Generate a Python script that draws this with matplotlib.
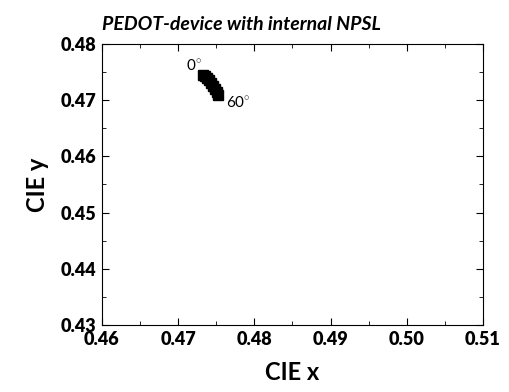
import matplotlib.pyplot as plt
from matplotlib.ticker import MultipleLocator

plt.rcParams['font.family'] = ['Lato', 'DejaVu Sans']
plt.rcParams['mathtext.fontset'] = 'custom'
plt.rcParams['mathtext.rm'] = 'Lato'

# CIE coordinates, 0 to 60 degrees
cie_x = [0.47326, 0.47352, 0.47378, 0.47404, 0.47431, 0.47457, 0.47483, 0.47509, 0.47522]
cie_y = [0.47448, 0.47431, 0.47395, 0.47359, 0.47306, 0.47253, 0.47199, 0.47146, 0.47093]

fig = plt.figure(figsize=(5.09, 3.92), dpi=100)
ax = fig.add_axes([0.2, 0.171, 0.749, 0.717])

ax.plot(cie_x, cie_y, 's', color='black', markersize=7)

ax.text(cie_x[0] - 0.0002, cie_y[0] + 0.0002, r"0$^{\circ}$", fontsize=11, ha='right', va='bottom')
ax.text(cie_x[-1] + 0.0011, cie_y[-1] - 0.0002, r"60$^{\circ}$", fontsize=11, ha='left', va='top')

ax.set_xlim(0.46, 0.51)
ax.set_ylim(0.43, 0.48)
ax.xaxis.set_major_locator(MultipleLocator(0.01))
ax.xaxis.set_minor_locator(MultipleLocator(0.005))
ax.yaxis.set_major_locator(MultipleLocator(0.01))
ax.yaxis.set_minor_locator(MultipleLocator(0.005))
ax.xaxis.set_major_formatter(plt.FormatStrFormatter('%.2f'))
ax.yaxis.set_major_formatter(plt.FormatStrFormatter('%.2f'))

ax.tick_params(which='both', direction='in', top=True, right=True)
ax.tick_params(which='major', length=5, labelsize=13, pad=4)
ax.tick_params(which='minor', length=3)
for lab in ax.get_xticklabels() + ax.get_yticklabels():
    lab.set_fontweight('heavy')

ax.set_xlabel("CIE x", fontsize=17, fontweight='bold', labelpad=10)
ax.set_ylabel("CIE y", fontsize=17, fontweight='bold', labelpad=8)
ax.set_title("PEDOT-device with internal NPSL", fontsize=14, fontweight='bold',
             style='italic', loc='left', x=0.0, pad=10)

plt.savefig("out.png", dpi=100)
